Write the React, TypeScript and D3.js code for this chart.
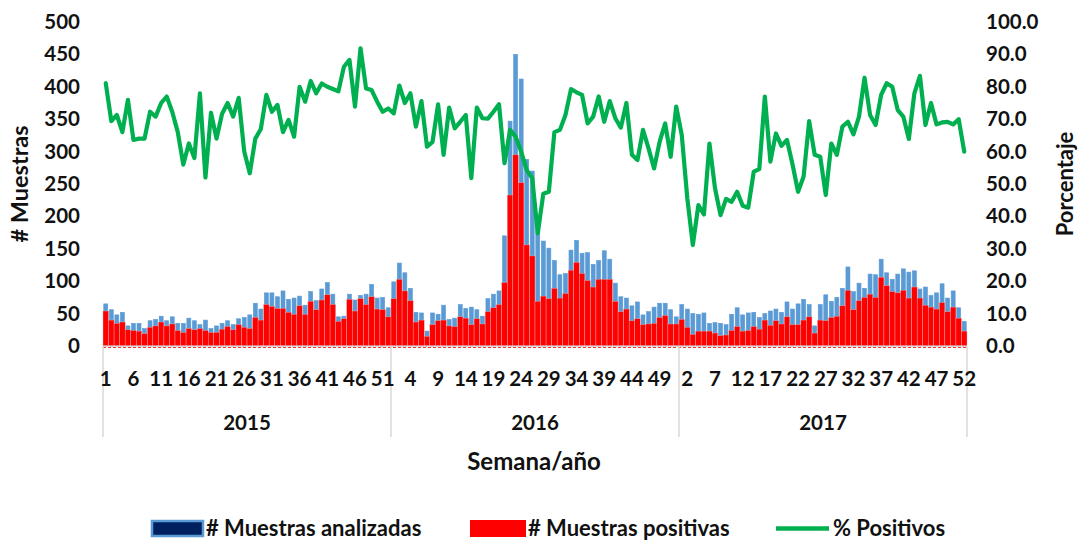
import React, { useEffect, useRef } from 'react';
import * as d3 from 'd3';

const WIDTH = 1080;
const HEIGHT = 540;

// semanas epidemiológicas por año
const years = ['2015', '2016', '2017'];
const weeksPerYear = [52, 52, 52];

// # Muestras analizadas
const analizadas2015 = [
  65, 56, 48, 52, 31, 35, 35, 27, 39, 41, 46, 39, 45, 35, 35, 43, 39, 33, 40, 27, 31, 35, 39, 33, 42, 44,
  48, 66, 57, 82, 82, 76, 85, 72, 74, 77, 63, 84, 70, 88, 98, 80, 45, 46, 80, 71, 78, 80, 95, 74, 75, 59,
];
const analizadas2016 = [
  99, 128, 113, 89, 52, 51, 23, 51, 49, 63, 41, 43, 64, 58, 60, 56, 46, 73, 80, 85, 170, 347, 450, 412, 288, 270,
  200, 162, 151, 132, 110, 112, 148, 163, 143, 144, 126, 132, 147, 134, 97, 76, 74, 62, 68, 48, 53, 60, 66, 66, 56, 45,
];
const analizadas2017 = [
  64, 57, 50, 49, 51, 35, 36, 35, 33, 49, 59, 48, 51, 52, 44, 50, 54, 57, 52, 68, 57, 65, 72, 64, 31, 64,
  79, 69, 75, 89, 122, 84, 97, 89, 111, 110, 134, 113, 103, 111, 119, 114, 116, 88, 91, 78, 82, 96, 74, 85, 59, 38,
];

// # Muestras positivas
const positivas2015 = [
  54, 40, 35, 37, 25, 24, 23, 19, 29, 31, 37, 31, 34, 24, 21, 27, 25, 27, 24, 21, 21, 26, 30, 25, 33, 29,
  27, 44, 40, 64, 61, 58, 58, 52, 49, 62, 49, 69, 56, 71, 79, 64, 38, 42, 72, 54, 73, 64, 76, 57, 56, 45,
];
const positivas2016 = [
  73, 103, 85, 70, 37, 40, 15, 33, 39, 40, 31, 30, 45, 43, 33, 42, 34, 53, 59, 64, 98, 233, 295, 252, 156, 139,
  69, 77, 73, 89, 74, 81, 117, 129, 112, 101, 91, 103, 103, 103, 69, 53, 57, 39, 42, 33, 34, 35, 44, 47, 34, 34,
];
const positivas2017 = [
  41, 29, 18, 23, 23, 23, 20, 16, 17, 24, 30, 23, 24, 30, 26, 40, 32, 39, 34, 45, 33, 33, 40, 45, 20, 40,
  39, 44, 46, 62, 86, 56, 70, 75, 80, 75, 106, 93, 84, 82, 86, 74, 91, 74, 63, 60, 57, 67, 53, 60, 43, 23,
];

// % Positivos
const pct2015 = [
  81.1, 69.4, 71.3, 66, 76, 63.6, 64, 64, 72.3, 70.8, 75, 77, 72.3, 66, 56, 62.5, 58, 78, 52, 72, 64, 71.7, 75, 70.8, 76.6, 60,
  53.3, 64, 67, 77.5, 72.3, 74.4, 66, 69.8, 64.6, 80, 75.4, 81.8, 78, 81, 80, 79.3, 78.6, 86.2, 88.3, 73.9, 91.9, 79.5, 79, 75.4, 72.3, 73.3,
];
const pct2016 = [
  71.8, 80.4, 75, 78, 67.7, 75.6, 61.5, 63, 74.6, 59, 73.6, 67.2, 69.2, 71.3, 51.8, 73.6, 70.3, 70.2, 72.3, 74.6, 56.4, 66.7, 64.6, 60, 54.3, 51.8,
  34.8, 47, 47.6, 66, 66.7, 71.3, 79.3, 78.3, 77.5, 68.7, 70.8, 77, 69.2, 75.6, 70.3, 67.4, 75, 59, 57.4, 66.7, 61, 54.8, 63, 68.7, 58.4, 73.9,
];
const pct2017 = [
  65.1, 45.6, 31.2, 43.5, 40.6, 62.5, 48.7, 40.4, 45.4, 44.5, 47.6, 43.3, 42.7, 53.8, 54.6, 77, 56.9, 65.6, 61.8, 63.6, 56, 47.6, 52.3, 69.4, 59, 58.4,
  46.6, 62.5, 59, 67.7, 69.2, 65.3, 70.8, 82.8, 71.3, 68.2, 77.5, 81.1, 80, 72.8, 70.8, 63.9, 78, 83.4, 68.2, 75, 68.4, 69, 69.2, 68.4, 70, 60,
];

const leftTicks = [0, 50, 100, 150, 200, 250, 300, 350, 400, 450, 500];
const rightTicks = [0, 10, 20, 30, 40, 50, 60, 70, 80, 90, 100];

const FONT = 'Lato, "Open Sans", sans-serif';
const BLUE = '#5b9bd5';
const RED = '#ff0000';
const GREEN = '#00b050';

const margin = { l: 103, r: 114, t: 22, b: 194 };

const App = () => {
  const analizadas = [...analizadas2015, ...analizadas2016, ...analizadas2017];
  const positivas = [...positivas2015, ...positivas2016, ...positivas2017];
  const pct = [...pct2015, ...pct2016, ...pct2017];

  // etiquetas de semana por año (1..52)
  const weekLabels: string[] = [];
  weeksPerYear.forEach((n) => {
    for (let w = 1; w <= n; w++) weekLabels.push(String(w));
  });
  const idx = weekLabels.map((_, i) => i);

  const x0 = margin.l;
  const x1 = WIDTH - margin.r + 1;
  const yBase = HEIGHT - margin.b;

  const xScale = d3.scaleBand<number>().domain(idx).range([x0, x1]).padding(0);
  const yLeft = d3.scaleLinear().domain([0, 500]).range([yBase, margin.t]);
  const yRight = d3.scaleLinear().domain([0, 100]).range([yBase, margin.t]);
  const bw = xScale.bandwidth();

  const line = d3
    .line<number>()
    .x((_, i) => (xScale(i) as number) + bw / 2)
    .y((d) => yRight(d));

  const $lines = useRef<SVGGElement>(null);

  useEffect(() => {
    const g = d3.select($lines.current);
    g.selectAll('*').remove();
    g.append('path')
      .datum(pct)
      .attr('d', line as any)
      .attr('fill', 'none')
      .attr('stroke', GREEN)
      .attr('stroke-width', 4.2)
      .attr('stroke-linejoin', 'round')
      .attr('stroke-linecap', 'round');
  }, []);

  // limites de años para separadores
  const yearBounds: number[] = [0];
  weeksPerYear.reduce((acc, n) => {
    yearBounds.push(acc + n);
    return acc + n;
  }, 0);
  const boundX = (k: number) => (k < idx.length ? (xScale(k) as number) : x1);

  return (
    <svg
      width={WIDTH}
      height={HEIGHT}
      style={{ position: 'absolute', left: 0, top: 0, background: '#fff' }}
      fontFamily={FONT}
      fontWeight="bold"
      fill="#111"
    >
      {/* barras analizadas (fondo) */}
      <g>
        {analizadas.map((v, i) => (
          <rect
            key={`a-${i}`}
            x={(xScale(i) as number) + bw * 0.14}
            y={yLeft(v)}
            width={bw * 0.72}
            height={yBase - yLeft(v)}
            fill={BLUE}
            stroke={BLUE}
            strokeWidth={0.6}
          />
        ))}
      </g>
      {/* barras positivas */}
      <g>
        {positivas.map((v, i) => (
          <rect
            key={`p-${i}`}
            x={xScale(i) as number}
            y={yLeft(v)}
            width={bw}
            height={yBase - yLeft(v)}
            fill={RED}
            stroke="#e8b0b0"
            strokeWidth={0.4}
          />
        ))}
      </g>

      {/* eje x */}
      <line x1={x0} x2={x1} y1={yBase} y2={yBase} stroke="#d9d9d9" strokeWidth={1} />
      <line x1={x0} x2={x1} y1={yBase + 1.5} y2={yBase + 1.5} stroke={RED} strokeWidth={0.8} strokeDasharray="3,2" />
      {yearBounds.map((k) => (
        <line key={`yb-${k}`} x1={boundX(k)} x2={boundX(k)} y1={yBase} y2={437} stroke="#d9d9d9" strokeWidth={1.5} />
      ))}

      <g ref={$lines} />

      {/* etiquetas de semana */}
      {idx
        .filter((i) => i % 5 === 0)
        .map((i) => (
          <text key={`w-${i}`} x={(xScale(i) as number) + bw / 2} y={386} textAnchor="middle" fontSize={20.5}>
            {weekLabels[i]}
          </text>
        ))}
      {years.map((yr, j) => (
        <text
          key={yr}
          x={(boundX(yearBounds[j]) + boundX(yearBounds[j + 1])) / 2}
          y={430}
          textAnchor="middle"
          fontSize={20.5}
        >
          {yr}
        </text>
      ))}
      <text x={534} y={470} textAnchor="middle" fontSize={24}>
        Semana/año
      </text>

      {/* eje y izquierdo */}
      {leftTicks.map((t) => (
        <text key={`l-${t}`} x={80} y={yLeft(t) + 7} textAnchor="end" fontSize={20.5}>
          {t}
        </text>
      ))}
      <text transform={`translate(28, ${(yBase + margin.t) / 2}) rotate(-90)`} textAnchor="middle" fontSize={23.5}>
        # Muestras
      </text>

      {/* eje y derecho */}
      {rightTicks.map((t) => (
        <text key={`r-${t}`} x={986} y={yRight(t) + 7} textAnchor="start" fontSize={20.5}>
          {d3.format('.1f')(t)}
        </text>
      ))}
      <text transform={`translate(1073, ${(yBase + margin.t) / 2}) rotate(-90)`} textAnchor="middle" fontSize={22}>
        Porcentaje
      </text>

      {/* leyenda */}
      <g fontSize={22}>
        <rect x={152} y={521} width={51} height={15} fill="#002060" stroke={BLUE} strokeWidth={2.5} />
        <text x={206} y={536}>
          # Muestras analizadas
        </text>
        <rect x={470} y={520} width={56} height={17} fill={RED} />
        <text x={528} y={536}>
          # Muestras positivas
        </text>
        <line x1={776} x2={829} y1={528.5} y2={528.5} stroke={GREEN} strokeWidth={4.5} />
        <text x={833} y={536}>
          % Positivos
        </text>
      </g>
    </svg>
  );
};

export default App;
